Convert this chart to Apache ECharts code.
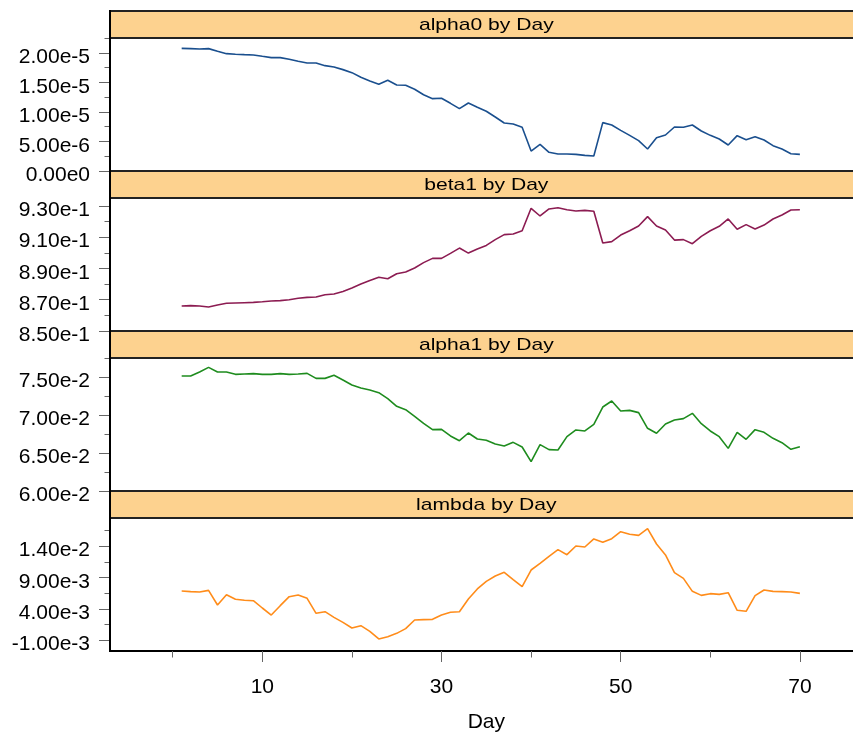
<!DOCTYPE html>
<html><head><meta charset="utf-8">
<script src="https://cdn.jsdelivr.net/npm/echarts@6/dist/echarts.min.js"></script>
<style>html,body{margin:0;padding:0;background:#fff;overflow:hidden}#c{width:872px;height:736px}</style>
</head><body><div id="c"></div>
<script>
const days = [1,2,3,4,5,6,7,8,9,10,11,12,13,14,15,16,17,18,19,20,21,22,23,24,25,26,27,28,29,30,31,32,33,34,35,36,37,38,39,40,41,42,43,44,45,46,47,48,49,50,51,52,53,54,55,56,57,58,59,60,61,62,63,64,65,66,67,68,69,70];

const alpha0 = [2.075e-5,2.07e-5,2.064e-5,2.07e-5,2.025e-5,1.985e-5,1.974e-5,1.968e-5,1.963e-5,1.94e-5,
1.918e-5,1.918e-5,1.89e-5,1.856e-5,1.827e-5,1.827e-5,1.782e-5,1.76e-5,1.715e-5,1.664e-5,
1.585e-5,1.523e-5,1.466e-5,1.534e-5,1.455e-5,1.45e-5,1.382e-5,1.29e-5,1.224e-5,1.23e-5,
1.145e-5,1.055e-5,1.15e-5,1.077e-5,1.01e-5,9.14e-6,8.12e-6,7.95e-6,7.39e-6,3.38e-6,
4.51e-6,3.16e-6,2.88e-6,2.88e-6,2.82e-6,2.65e-6,2.54e-6,8.18e-6,7.78e-6,6.88e-6,
6.03e-6,5.13e-6,3.72e-6,5.64e-6,6.09e-6,7.44e-6,7.39e-6,7.78e-6,6.77e-6,6.03e-6,
5.41e-6,4.4e-6,5.98e-6,5.3e-6,5.81e-6,5.24e-6,4.29e-6,3.72e-6,2.93e-6,2.82e-6];

const beta1 = [0.866,0.8662,0.866,0.8653,0.8666,0.8677,0.8679,0.8681,0.8683,0.8687,
0.8692,0.8694,0.870,0.8709,0.8715,0.8717,0.8732,0.8736,0.8753,0.8775,
0.880,0.8822,0.8843,0.8834,0.8866,0.8877,0.8903,0.8937,0.8964,0.8964,
0.8996,0.903,0.8998,0.9024,0.9047,0.9084,0.9116,0.912,0.9141,0.9284,
0.9235,0.928,0.9288,0.9275,0.9267,0.9271,0.9265,0.9062,0.9071,0.9113,
0.9141,0.9171,0.9231,0.9171,0.9145,0.9081,0.9084,0.9058,0.9105,0.9141,
0.9169,0.9216,0.915,0.918,0.9152,0.9177,0.9216,0.9241,0.9273,0.9275];

const alpha1 = [0.07513,0.07513,0.07566,0.07627,0.07566,0.07566,0.07535,0.0754,0.07544,0.07535,
0.07535,0.07544,0.07535,0.0754,0.07548,0.07482,0.07482,0.07522,0.0746,0.07395,
0.07355,0.07329,0.07294,0.07215,0.07114,0.0707,0.06982,0.0689,0.06807,0.06811,
0.06724,0.06662,0.06763,0.06684,0.06667,0.06618,0.06592,0.0664,0.06579,0.06386,
0.0661,0.06544,0.0654,0.06715,0.06803,0.0679,0.06877,0.07105,0.07184,0.07053,
0.07061,0.07031,0.06825,0.06759,0.06882,0.06934,0.06952,0.07022,0.06886,0.0679,
0.06715,0.06561,0.06772,0.0668,0.06807,0.06772,0.06693,0.06636,0.06548,0.06583];

const lambda = [0.00684,0.00673,0.00668,0.00694,0.0046,0.00625,0.00551,0.00535,0.00529,0.00412,
0.003,0.00449,0.00593,0.0062,0.00567,0.00327,0.00353,0.00263,0.00183,0.00092,
0.0013,0.00039,-0.00083,-0.00046,0.00007,0.00082,0.0022,0.00226,0.00231,0.003,
0.00343,0.00353,0.00556,0.00716,0.00838,0.00923,0.00982,0.00865,0.00753,0.01019,
0.01126,0.01238,0.01344,0.01264,0.01403,0.01387,0.01515,0.01461,0.0152,0.01632,
0.0159,0.01573,0.0168,0.01435,0.0126,0.00977,0.00886,0.00678,0.00614,0.00641,
0.0063,0.00657,0.00375,0.00359,0.00609,0.007,0.00678,0.00673,0.00668,0.00646];

const titles = ['alpha0 by Day','beta1 by Day','alpha1 by Day','lambda by Day'];
const seriesValues = [alpha0, beta1, alpha1, lambda];
const colors = ['#1a4f8e','#8c1c52','#1e8c1e','#ff8c1a'];

const yMajorTicks = [
  [0, 5e-6, 1e-5, 1.5e-5, 2e-5],
  [0.85, 0.87, 0.89, 0.91, 0.93],
  [0.06, 0.065, 0.07, 0.075],
  [-0.001, 0.004, 0.009, 0.014]
];
const yMinorTicks = [
  [2.5e-6, 7.5e-6, 1.25e-5, 1.75e-5, 2.25e-5],
  [0.86, 0.88, 0.90, 0.92],
  [0.0625, 0.0675, 0.0725, 0.0775],
  [0.0015, 0.0065, 0.0115, 0.0165]
];
const yMin = [0, 0.85, 0.06, -0.00275];
const yMax = [2.25e-5, 0.935, 0.0775, 0.0185];

const xLabelTicks = [10, 30, 50, 70];
const xMinorTicks = [0, 20, 40, 60];

const FONT = "'Liberation Sans', Arial, sans-serif";
const LEFT = 110, WIDTH = 752.6, PERIOD = 160, HEAD_TOP = 11, HEAD_H = 27, PLOT_H = 133;

function fmt(v){ return Number(v).toExponential(2).replace('e+','e'); }

const grids = [], xAxes = [], yAxes = [], series = [], graphics = [];
for (let k = 0; k < 4; k++) {
  const top = HEAD_TOP + HEAD_H + PERIOD * k;
  grids.push({left: LEFT, top: top, width: WIDTH, height: PLOT_H, containLabel: false});
  const isBottom = k === 3;
  xAxes.push({
    type: 'value', gridIndex: k, min: -7, max: 77, position: 'bottom',
    splitLine: {show: false},
    axisLine: {show: isBottom, onZero: false, lineStyle: {color: '#000', width: 2}},
    axisTick: {show: isBottom, customValues: xLabelTicks, length: 11, lineStyle: {color: '#666', width: 1}},
    axisLabel: {show: isBottom, customValues: xLabelTicks, margin: 26, fontSize: 21, color: '#000', fontFamily: FONT},
    name: isBottom ? 'Day' : '', nameLocation: 'middle', nameGap: 61,
    nameTextStyle: {fontSize: 21, color: '#000', fontFamily: FONT}
  });
  yAxes.push({
    type: 'value', gridIndex: k, min: yMin[k], max: yMax[k], position: 'left',
    splitLine: {show: false},
    axisLine: {show: true, onZero: false, lineStyle: {color: '#000', width: 2}},
    axisTick: {show: true, customValues: yMajorTicks[k], length: 11, lineStyle: {color: '#666', width: 1}},
    axisLabel: {show: true, customValues: yMajorTicks[k], margin: 20, fontSize: 21, color: '#000', fontFamily: FONT,
      formatter: fmt, verticalAlign: 'top', lineHeight: 9}
  });
  series.push({
    type: 'line', xAxisIndex: k, yAxisIndex: k, showSymbol: false, symbol: 'none',
    lineStyle: {color: colors[k], width: 1.6}, itemStyle: {color: colors[k]},
    data: days.map((d, i) => [d, seriesValues[k][i]]), z: 3
  });
  const hy = HEAD_TOP + PERIOD * k;
  graphics.push({type: 'rect', shape: {x: LEFT, y: hy, width: 780, height: HEAD_H}, style: {fill: '#fdd28f'}, z: 1});
  graphics.push({type: 'line', shape: {x1: LEFT, y1: hy, x2: 880, y2: hy}, style: {stroke: '#222', lineWidth: 2}, z: 2});
  graphics.push({type: 'line', shape: {x1: LEFT, y1: hy + HEAD_H, x2: 880, y2: hy + HEAD_H}, style: {stroke: '#222', lineWidth: 2}, z: 2});
  graphics.push({type: 'text', x: LEFT + WIDTH / 2, y: hy + HEAD_H / 2 + 1, scaleX: 1.24, z: 3,
    style: {text: titles[k], font: "17px " + FONT, fill: '#000', textAlign: 'center', textVerticalAlign: 'middle'}});
}
// minor ticks (separate axes on the same grids)
for (let k = 0; k < 4; k++) {
  yAxes.push({
    type: 'value', gridIndex: k, min: yMin[k], max: yMax[k], position: 'left',
    splitLine: {show: false}, axisLine: {show: false, onZero: false},
    axisTick: {show: true, customValues: yMinorTicks[k], length: 5.5, lineStyle: {color: '#666', width: 1}},
    axisLabel: {show: false}
  });
}
xAxes.push({
  type: 'value', gridIndex: 3, min: -7, max: 77, position: 'bottom',
  splitLine: {show: false}, axisLine: {show: false, onZero: false},
  axisTick: {show: true, customValues: xMinorTicks, length: 6.5, lineStyle: {color: '#666', width: 1}},
  axisLabel: {show: false}
});
graphics.push({type: 'line', shape: {x1: LEFT, y1: HEAD_TOP - 1, x2: LEFT, y2: HEAD_TOP + PERIOD * 3 + HEAD_H + PLOT_H + 1}, style: {stroke: '#000', lineWidth: 2}, z: 4});

const chart = echarts.init(document.getElementById('c'), null, {renderer: 'canvas'});
chart.setOption({
  animation: false,
  backgroundColor: '#fff',
  grid: grids, xAxis: xAxes, yAxis: yAxes, series: series,
  graphic: {elements: graphics}
});
</script></body></html>
